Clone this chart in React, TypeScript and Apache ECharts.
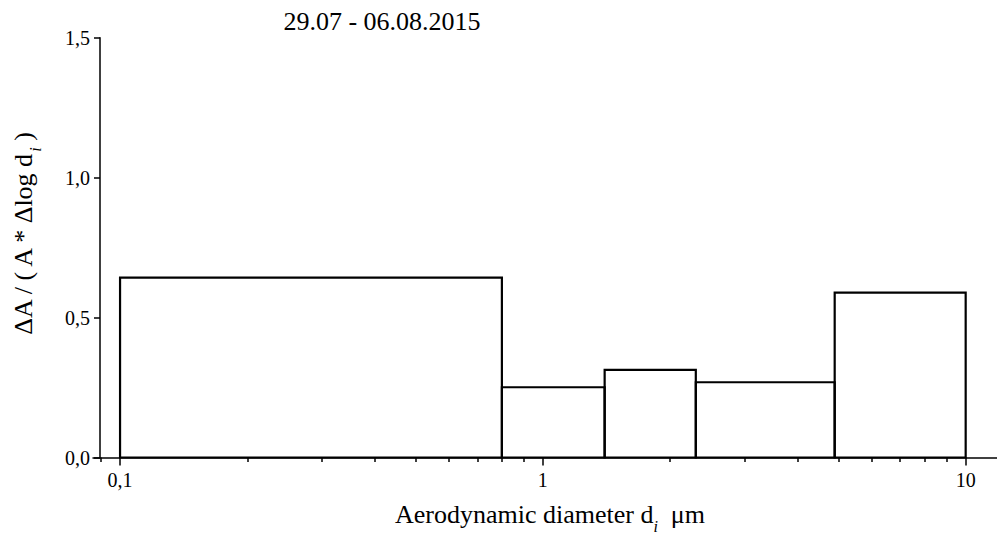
import React, { useEffect, useRef } from "react";
import * as echarts from "echarts";

// Size bins (µm) and normalised area per bin
const binEdges = [0.1, 0.8, 1.4, 2.3, 4.9, 10];
const binValues = [0.643, 0.251, 0.313, 0.269, 0.589];

// Axis ticks
const xMajorTicks = [0.1, 1, 10];
const xMinorTicks = [0.09, 0.2, 0.3, 0.4, 0.5, 0.6, 0.7, 0.8, 0.9, 2, 3, 4, 5, 6, 7, 8, 9];
const xRange = [0.0863, 11.86];
const yRange = [0, 1.5];
const yStep = 0.5;

const titleText = "29.07 - 06.08.2015";

const FONT = "Liberation Serif";
const INK = "#000";

const commaNumber = (v: number, digits?: number) => {
  const s = digits === undefined ? String(Number(v.toPrecision(6))) : v.toFixed(digits);
  return s.replace(".", ",");
};

const richTitle = {
  m: { fontFamily: FONT, fontSize: 26, lineHeight: 40, color: INK, verticalAlign: "middle" },
  s: { fontFamily: FONT, fontSize: 16, lineHeight: 16, color: INK, fontStyle: "italic", verticalAlign: "bottom" },
};

export default function App() {
  const ref = useRef<HTMLDivElement>(null);

  useEffect(() => {
    if (!ref.current) return;
    const chart = echarts.init(ref.current, undefined, { renderer: "svg" });

    const bins = binValues.map((v, i) => [binEdges[i], binEdges[i + 1], v]);
    const axisLineStyle = { color: INK, width: 1.5 };

    chart.setOption({
      animation: false,
      backgroundColor: "#fff",
      textStyle: { fontFamily: FONT },
      grid: {
        left: 93,
        right: 0,
        top: 37.8,
        bottom: 79.5,
        containLabel: false,
        outerBoundsMode: "none",
      },
      xAxis: [
        {
          type: "log",
          logBase: 10,
          min: xRange[0],
          max: xRange[1],
          position: "bottom",
          axisLine: { show: true, onZero: false, lineStyle: axisLineStyle },
          axisTick: { show: true, customValues: xMajorTicks, length: 8, lineStyle: axisLineStyle },
          minorTick: { show: false },
          axisLabel: {
            show: true,
            customValues: xMajorTicks,
            formatter: (v: number) => commaNumber(v),
            color: INK,
            fontFamily: FONT,
            fontSize: 20,
            margin: 12,
          },
          splitLine: { show: false },
        },
        {
          type: "log",
          logBase: 10,
          min: xRange[0],
          max: xRange[1],
          position: "bottom",
          axisLine: { show: false, onZero: false },
          axisTick: { show: true, customValues: xMinorTicks, length: 4.5, lineStyle: axisLineStyle },
          minorTick: { show: false },
          axisLabel: { show: false },
          splitLine: { show: false },
        },
      ],
      yAxis: {
        type: "value",
        min: yRange[0],
        max: yRange[1],
        interval: yStep,
        offset: -7,
        axisLine: { show: true, onZero: false, lineStyle: axisLineStyle },
        axisTick: { show: true, length: 6, lineStyle: axisLineStyle },
        axisLabel: {
          formatter: (v: number) => commaNumber(v, 1),
          color: INK,
          fontFamily: FONT,
          fontSize: 20,
          margin: 10,
        },
        splitLine: { show: false },
      },
      graphic: [
        {
          type: "text",
          x: 382,
          y: 21,
          style: {
            text: titleText,
            fontFamily: FONT,
            fontSize: 26,
            fill: INK,
            align: "center",
            verticalAlign: "middle",
          },
        },
        {
          type: "text",
          x: 550,
          y: 514,
          style: {
            text: "{m|Aerodynamic diameter d}{s|i}{m|  μm}",
            fontFamily: FONT,
            fontSize: 26,
            rich: richTitle,
            align: "center",
            verticalAlign: "middle",
          },
        },
        {
          type: "text",
          x: 23,
          y: 234.5,
          rotation: Math.PI / 2,
          style: {
            text: "{m|ΔA / ( A * Δlog d}{s|i}{m| )}",
            fontFamily: FONT,
            fontSize: 26,
            rich: richTitle,
            align: "center",
            verticalAlign: "middle",
          },
        },
      ],
      series: [
        {
          type: "custom",
          xAxisIndex: 0,
          yAxisIndex: 0,
          clip: false,
          encode: { x: [0, 1], y: 2 },
          data: bins,
          renderItem: (_params: any, api: any) => {
            const lo = api.value(0);
            const hi = api.value(1);
            const v = api.value(2);
            const p0 = api.coord([lo, 0]);
            const p1 = api.coord([hi, v]);
            return {
              type: "rect",
              shape: { x: p0[0], y: p1[1], width: p1[0] - p0[0], height: p0[1] - p1[1] },
              style: { fill: "none", stroke: INK, lineWidth: 2.2 },
            };
          },
        },
      ],
    });

    return () => chart.dispose();
  }, []);

  return (
    <div
      ref={ref}
      style={{ position: "fixed", left: 0, top: 0, width: 997, height: 537, background: "#fff" }}
    />
  );
}
